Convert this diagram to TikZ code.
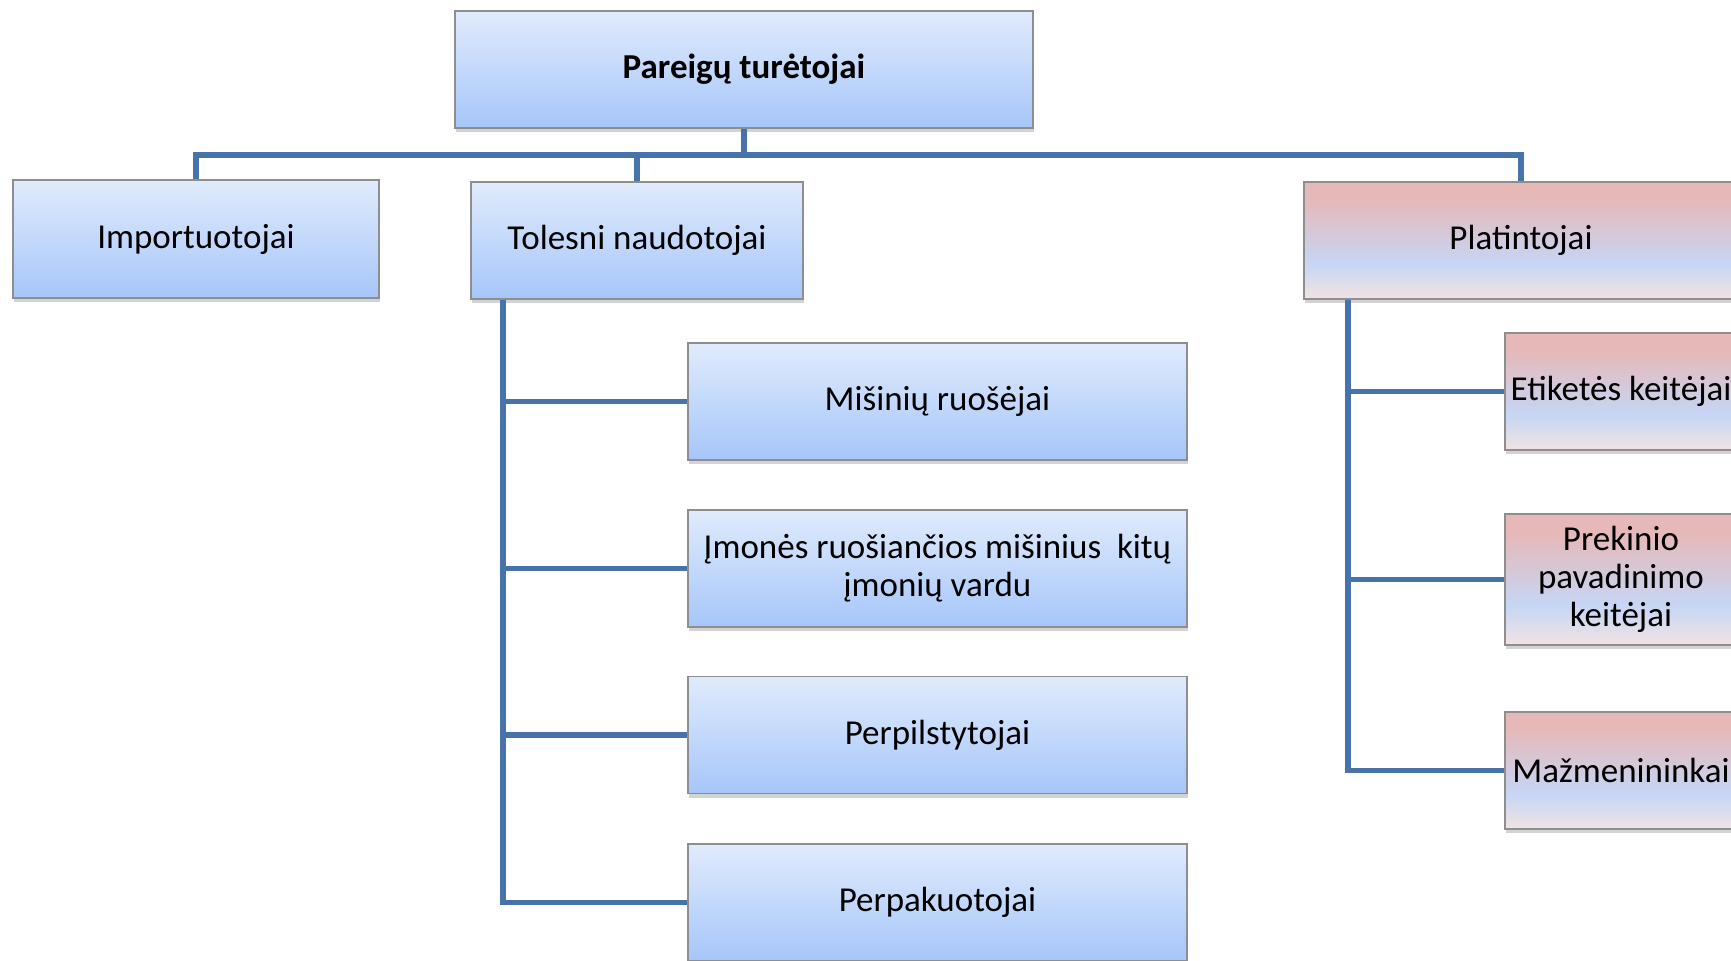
\documentclass[tikz,border=0pt]{standalone}
\usepackage{fontspec}
\setmainfont{Carlito}
\usetikzlibrary{shadows}
\definecolor{linkblue}{HTML}{4772AA}
\definecolor{boxedge}{HTML}{8E8E8E}
\definecolor{bluetop}{HTML}{E0EBFC}
\definecolor{bluebot}{HTML}{A6C6FA}
\definecolor{pinktop}{HTML}{E7B8B8}
\definecolor{pinkmid}{HTML}{C6D6F5}
\definecolor{pinkbot}{HTML}{F1E3E3}
\pgfdeclareverticalshading{pinkshade}{100bp}{color(0bp)=(pinkbot); color(25bp)=(pinkbot); color(40bp)=(pinkmid); color(68bp)=(pinktop); color(100bp)=(pinktop)}
\tikzset{
  box/.style={draw=boxedge, line width=0.6pt, inner sep=2pt, align=center,
    font=\fontsize{17.5}{19}\selectfont,
    drop shadow={shadow xshift=0.6pt, shadow yshift=-2pt, opacity=0.35}},
  bluebox/.style={box, top color=bluetop, bottom color=bluebot},
  pinkbox/.style={box, shading=pinkshade},
  conn/.style={draw=linkblue, line width=2.8pt}
}

\begin{document}
\begin{tikzpicture}[x=0.5pt,y=-0.5pt]
\useasboundingbox (0,0) rectangle (1731,960);
\clip (0,0) rectangle (1731,960);
% top
\node[bluebox, minimum width=289pt, minimum height=58.5pt, font=\fontsize{17.5}{19}\selectfont\bfseries] (top) at (744,69.5) {Pareigų turėtojai};
% second row
\node[bluebox, minimum width=183pt, minimum height=59pt] (imp) at (196,239) {Importuotojai};
\node[bluebox, minimum width=166pt, minimum height=58.5pt] (tol) at (637,240.5) {Tolesni naudotojai};
\node[pinkbox, minimum width=217pt, minimum height=58.5pt] (plat) at (1521,240.5) {Platintojai};
% downstream users
\node[bluebox, minimum width=249.5pt, minimum height=58.5pt] (mis) at (937.5,401.5) {Mišinių ruošėjai};
\node[bluebox, minimum width=249.5pt, minimum height=58.5pt] (imon) at (937.5,568.5) {Įmonės ruošiančios mišinius\ \ kitų\\įmonių vardu};
\node[bluebox, minimum width=249.5pt, minimum height=58.5pt] (perpil) at (937.5,735) {Perpilstytojai};
\node[bluebox, minimum width=249.5pt, minimum height=58.5pt] (perpak) at (937.5,902.5) {Perpakuotojai};
% distributors
\node[pinkbox, minimum width=116pt, minimum height=58.5pt] (etik) at (1621,391.5) {Etiketės keitėjai};
\node[pinkbox, minimum width=116pt, minimum height=65.5pt] (prek) at (1621,579.5) {Prekinio\\pavadinimo\\keitėjai};
\node[pinkbox, minimum width=116pt, minimum height=58.5pt] (mazm) at (1621,770.5) {Mažmenininkai};
% connectors
\coordinate (bus) at (744,155);
\coordinate (tolx) at (503,0);
\coordinate (platx) at (1348,0);
\draw[conn] (top.south) -- (bus);
\draw[conn] (imp.north) |- (bus) -| (plat.north);
\draw[conn] (tol.north) -- (tol.north |- bus);
\draw[conn] (tol.south -| tolx) |- (perpak.west);
\foreach \n in {mis,imon,perpil}
  \draw[conn] (tolx |- \n.west) -- (\n.west);
\draw[conn] (plat.south -| platx) |- (mazm.west);
\foreach \n in {etik,prek}
  \draw[conn] (platx |- \n.west) -- (\n.west);
\end{tikzpicture}
\end{document}
